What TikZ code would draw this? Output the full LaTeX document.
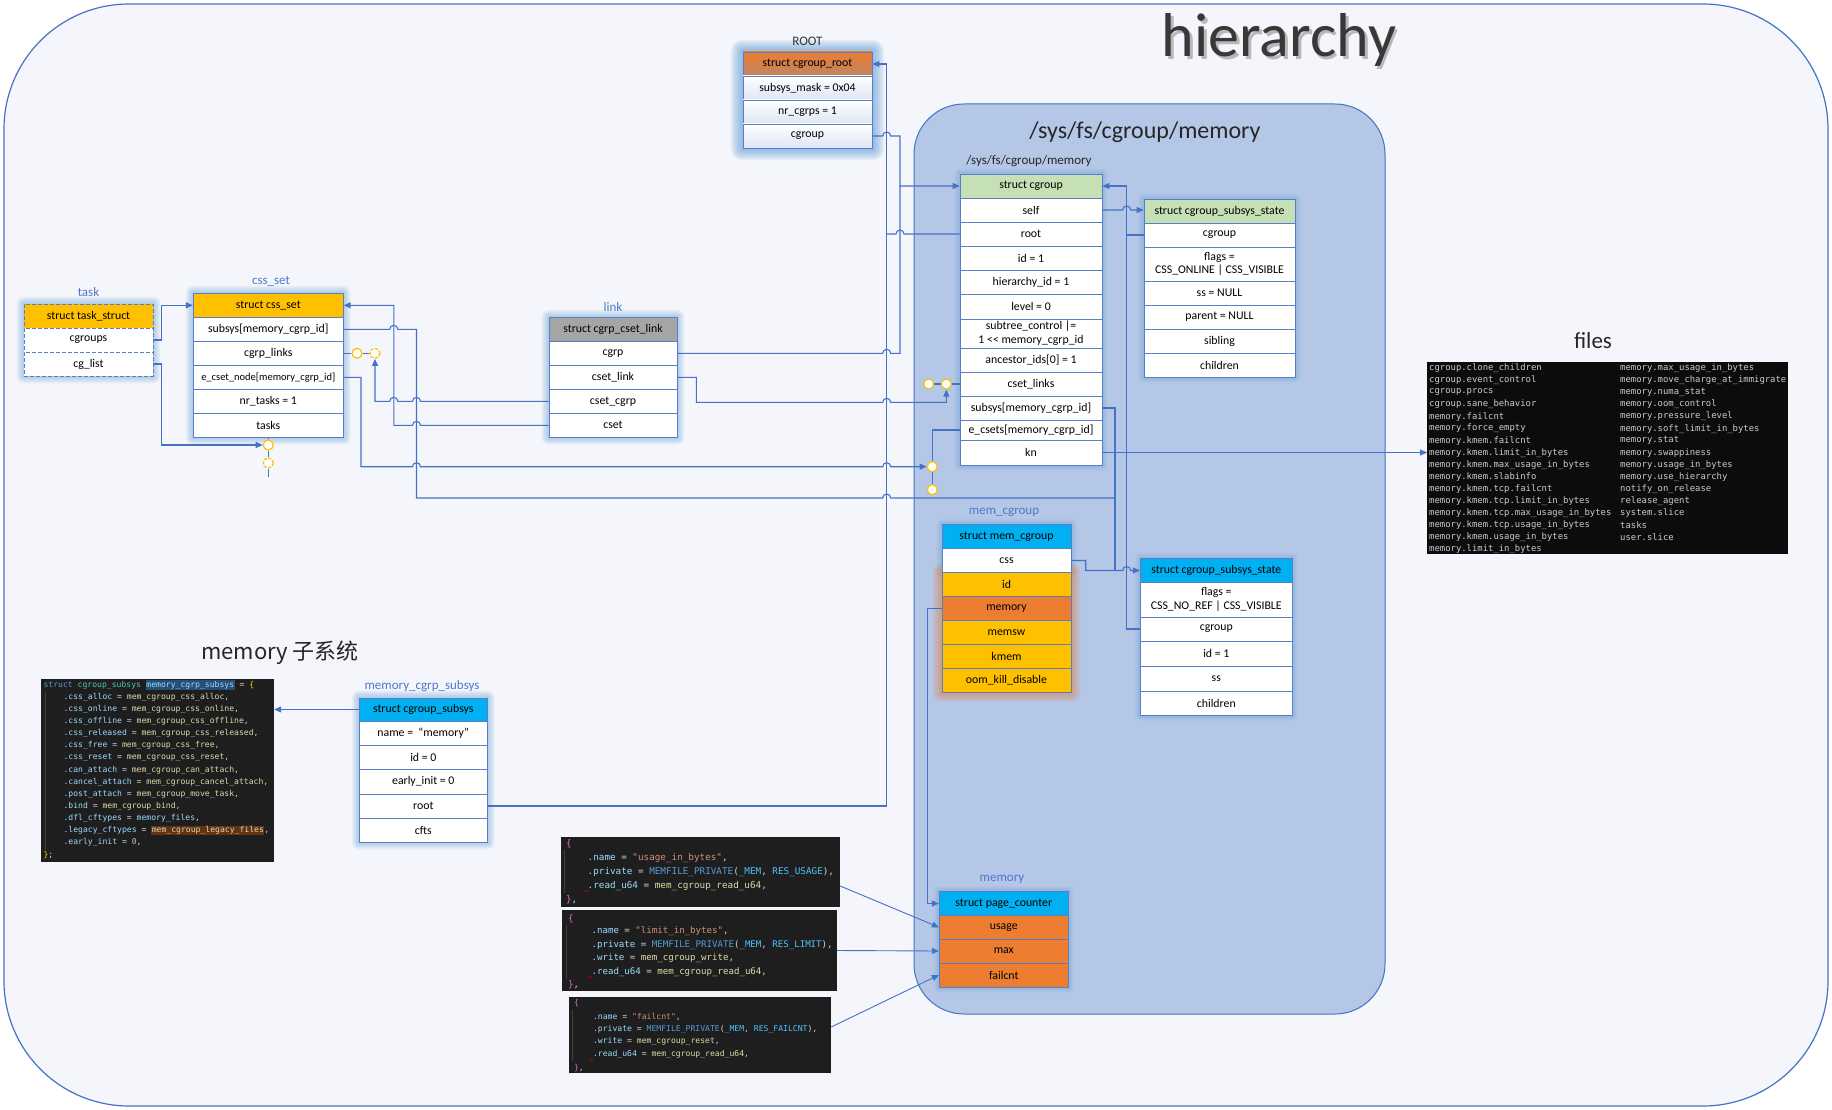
\documentclass[tikz,border=0pt]{standalone}
\usepackage{fontspec}
\setmainfont{Carlito}
\setmonofont{DejaVu Sans Mono}
\newfontfamily\cjkfont{Noto Sans CJK SC}
\usetikzlibrary{arrows.meta,calc}
\pgfdeclarelayer{back}
\pgfdeclarelayer{halo}
\pgfsetlayers{back,halo,main}

\definecolor{linec}{HTML}{4472C4}
\definecolor{boxline}{HTML}{5A7EC6}
\definecolor{hdrorange}{HTML}{ED7D31}
\definecolor{rootbrown}{HTML}{BE8465}
\definecolor{rowblue}{HTML}{DCE6F5}
\definecolor{hdrgold}{HTML}{FFC000}
\definecolor{hdrgreen}{HTML}{C5E0B4}
\definecolor{hdrcyan}{HTML}{00B0F0}
\definecolor{hdrgray}{HTML}{A5A5A5}
\definecolor{panel}{HTML}{B4C7E7}
\definecolor{pagebg}{HTML}{F4F6FB}
\definecolor{lblblue}{HTML}{4F78C8}
\definecolor{ringc}{HTML}{FFC000}
\definecolor{codebg}{HTML}{1E1E1E}
\definecolor{filebg}{HTML}{0C0C0C}
\definecolor{cfield}{HTML}{9CDCFE}
\definecolor{cfunc}{HTML}{DCDCAA}
\definecolor{cplain}{HTML}{D4D4D4}
\definecolor{cfile}{HTML}{CCCCCC}
\definecolor{ckey}{HTML}{569CD6}
\definecolor{ctype}{HTML}{4EC9B0}
\definecolor{cstr}{HTML}{CE9178}
\definecolor{cnum}{HTML}{B5CEA8}
\definecolor{cconst}{HTML}{4FC1FF}
\definecolor{cbrace}{HTML}{DA70D6}
\definecolor{cyel}{HTML}{FFD700}
\definecolor{csel}{HTML}{264F78}
\definecolor{cfind}{HTML}{613214}
\definecolor{cguide}{HTML}{404040}
\definecolor{glowblue}{HTML}{5B9BD5}
\definecolor{gloworange}{HTML}{ED7D31}

\setlength\fboxsep{0.5pt}

\newcommand\fldfont{\fontsize{11.8}{13.7}\selectfont}
\newcommand\smallfld{\fontsize{10.5}{12}\selectfont}
\newcommand\tagfont{\fontsize{13}{15}\selectfont}
\newcommand\subcode{\ttfamily\fontsize{8.1}{9}\selectfont}
\newcommand\usecode{\ttfamily\fontsize{9.3}{10}\selectfont}
\newcommand\limcode{\ttfamily\fontsize{9.1}{10}\selectfont}
\newcommand\failcode{\ttfamily\fontsize{8.1}{9}\selectfont}
\newcommand\filecode{\ttfamily\fontsize{8.9}{10}\selectfont}

\newcommand\kfield[1]{\textcolor{cfield}{#1}}
\newcommand\kfunc[1]{\textcolor{cfunc}{#1}}
\newcommand\kkey[1]{\textcolor{ckey}{#1}}
\newcommand\ktype[1]{\textcolor{ctype}{#1}}
\newcommand\kstr[1]{\textcolor{cstr}{#1}}
\newcommand\knum[1]{\textcolor{cnum}{#1}}
\newcommand\kconst[1]{\textcolor{cconst}{#1}}
\newcommand\kbrace[1]{\textcolor{cbrace}{#1}}

% one row of a struct: name, centre x, centre y, width, height, options, text
\newcommand\fieldat[7]{\node[fld,minimum width=#4pt,minimum height=#5pt,#6] (#1) at (#2,#3) {#7};}
% soft halo behind a struct
\newcommand\halo[4]{\foreach \gi in {1,...,#2}{\fill[#1,opacity=0.07,rounded corners=\gi pt] ($(#3)+(-\gi,-\gi)$) rectangle ($(#4)+(\gi,\gi)$);}}
% red squiggle under a word
\newcommand\squiggle[2]{\draw[red!75!black,line width=0.6pt] (#1,#2) -- ++(1.3,1.3) -- ++(1.3,-1.3) -- ++(1.3,1.3);}

\begin{document}
\begin{tikzpicture}[x=1pt,y=-1pt,
  fld/.style={draw=boxline,line width=0.8pt,fill=white,inner sep=0pt,align=center,font=\fldfont,text=black},
  dashedbox/.style={dash pattern=on 4pt off 2pt},
  wire/.style={draw=linec,line width=1.1pt},
  thinwire/.style={draw=linec,line width=0.9pt},
  arr/.style={-{Triangle[length=7pt,width=6pt]}},
  ringnode/.style={circle,draw=ringc,fill=white,line width=1.2pt,minimum size=10pt,inner sep=0pt},
  brokenring/.style={ringnode,dash pattern=on 3pt off 1.6pt},
  boxlabel/.style={font=\tagfont,text=lblblue,inner sep=0pt},
  codebox/.style={fill=codebg,draw=none,inner sep=0pt},
  codeln/.style={anchor=west,inner sep=0pt,text=cplain},
  guide/.style={draw=cguide,line width=0.6pt}]

\useasboundingbox (0,0) rectangle (1832,1110);

% ---------- backgrounds ----------
\begin{pgfonlayer}{back}
\fill[white] (0,0) rectangle (1832,1110);
\draw[linec,line width=1.2pt,fill=pagebg,rounded corners=125pt] (4,4) rectangle (1828,1106);
\draw[linec,line width=1pt,fill=panel,rounded corners=50pt] (914,104) rectangle (1385,1014);
\end{pgfonlayer}

% ---------- titles ----------
\node[text=black!28,font=\fontsize{62}{64}\selectfont,inner sep=0pt] (title-shadow) at (1281.5,42.5) {hierarchy};
\node[text=black!78,font=\fontsize{62}{64}\selectfont,inner sep=0pt] (title) at (1279,40) {hierarchy};
\node[text=black!85,font=\fontsize{24}{26}\selectfont,inner sep=0pt] (panel-title) at (1145,132) {/sys/fs/cgroup/memory};
\node[text=black!85,font=\fontsize{13}{15}\selectfont,inner sep=0pt] (panel-path) at (1029,161) {/sys/fs/cgroup/memory};
\node[text=black!85,font=\fontsize{23}{25}\selectfont,inner sep=0pt] (files-title) at (1593,341) {files};
\node[text=black!85,font=\cjkfont\fontsize{22}{24}\selectfont,inner sep=0pt] (subsys-title) at (280,653) {memory 子系统};

% ---------- struct cgroup_root ----------
\node[boxlabel,text=black!80] (rt-tag) at (807.5,41) {ROOT};
\fieldat{rt-h}{807.5}{64}{129}{24}{top color=hdrorange,bottom color=rootbrown}{struct cgroup\_root}
\fieldat{rt-mask}{807.5}{88}{129}{24}{top color=white,bottom color=rowblue}{subsys\_mask = 0x04}
\fieldat{rt-nr}{807.5}{112}{129}{24}{top color=white,bottom color=rowblue}{nr\_cgrps = 1}
\fieldat{rt-cg}{807.5}{136}{129}{24}{top color=white,bottom color=rowblue}{cgroup}

% ---------- task_struct ----------
\node[boxlabel] (tk-tag) at (88.5,292) {task};
\fieldat{tk-h}{88.5}{316}{129}{24}{fill=hdrgold,dashedbox}{struct task\_struct}
\fieldat{tk-cg}{88.5}{340}{129}{24}{dashedbox}{cgroups}
\fieldat{tk-cl}{88.5}{364}{129}{24}{dashedbox}{cg\_list}

% ---------- css_set ----------
\node[boxlabel] (cs-tag) at (271,281) {css\_set};
\fieldat{cs-h}{268.3}{305.3}{150}{24}{fill=hdrgold}{struct css\_set}
\fieldat{cs-sub}{268.3}{329.3}{150}{24}{}{subsys[memory\_cgrp\_id]}
\fieldat{cs-links}{268.3}{353.3}{150}{24}{}{cgrp\_links}
\fieldat{cs-node}{268.3}{377.3}{150}{24}{font=\smallfld}{e\_cset\_node[memory\_cgrp\_id]}
\fieldat{cs-nr}{268.3}{401.3}{150}{24}{}{nr\_tasks = 1}
\fieldat{cs-tasks}{268.3}{425.3}{150}{24}{}{tasks}

% ---------- cgrp_cset_link ----------
\node[boxlabel] (lk-tag) at (613,307) {link};
\fieldat{lk-h}{613}{329.3}{128}{24}{fill=hdrgray}{struct cgrp\_cset\_link}
\fieldat{lk-cgrp}{613}{353.3}{128}{24}{}{cgrp}
\fieldat{lk-link}{613}{377.3}{128}{24}{}{cset\_link}
\fieldat{lk-ccg}{613}{401.3}{128}{24}{}{cset\_cgrp}
\fieldat{lk-cset}{613}{425.3}{128}{24}{}{cset}

% ---------- struct cgroup ----------
\fieldat{cg-h}{1031}{186}{142}{24}{fill=hdrgreen}{struct cgroup}
\fieldat{cg-self}{1031}{210}{142}{24}{}{self}
\fieldat{cg-root}{1031}{234}{142}{24}{}{root}
\fieldat{cg-id}{1031}{258}{142}{24}{}{id = 1}
\fieldat{cg-hid}{1031}{282}{142}{24}{}{hierarchy\_id = 1}
\fieldat{cg-level}{1031}{306.5}{142}{25}{}{level = 0}
\fieldat{cg-sub}{1031}{333.5}{142}{29}{}{subtree\_control |=\\1 <\kern0pt< memory\_cgrp\_id}
\fieldat{cg-anc}{1031}{360}{142}{24}{}{ancestor\_ids[0] = 1}
\fieldat{cg-links}{1031}{384}{142}{24}{}{cset\_links}
\fieldat{cg-subsys}{1031}{408}{142}{24}{}{subsys[memory\_cgrp\_id]}
\fieldat{cg-ecsets}{1031}{430}{142}{20}{}{e\_csets[memory\_cgrp\_id]}
\fieldat{cg-kn}{1031}{452.5}{142}{25}{}{kn}

% ---------- cgroup_subsys_state of the cgroup ----------
\fieldat{tcs-h}{1219.5}{211}{151}{24}{fill=hdrgreen}{struct cgroup\_subsys\_state}
\fieldat{tcs-cg}{1219.5}{235}{151}{24}{}{cgroup}
\fieldat{tcs-flags}{1219.5}{264}{151}{34}{}{flags =\\CSS\_ONLINE | CSS\_VISIBLE}
\fieldat{tcs-ss}{1219.5}{293}{151}{24}{}{ss = NULL}
\fieldat{tcs-par}{1219.5}{317}{151}{24}{}{parent = NULL}
\fieldat{tcs-sib}{1219.5}{341}{151}{24}{}{sibling}
\fieldat{tcs-ch}{1219.5}{365}{151}{24}{}{children}

% ---------- mem_cgroup ----------
\node[boxlabel] (mc-tag) at (1004,512) {mem\_cgroup};
\fieldat{mc-h}{1006.5}{536.5}{129}{24}{fill=hdrcyan}{struct mem\_cgroup}
\fieldat{mc-css}{1006.5}{560.5}{129}{24}{}{css}
\fieldat{mc-id}{1006.5}{584.5}{129}{24}{fill=hdrgold}{id}
\fieldat{mc-mem}{1006.5}{608.5}{129}{24}{fill=hdrorange}{memory}
\fieldat{mc-sw}{1006.5}{632.5}{129}{24}{fill=hdrgold}{memsw}
\fieldat{mc-kmem}{1006.5}{656.5}{129}{24}{fill=hdrgold}{kmem}
\fieldat{mc-oom}{1006.5}{680.5}{129}{24}{fill=hdrgold}{oom\_kill\_disable}

% ---------- cgroup_subsys_state of mem_cgroup ----------
\fieldat{bcs-h}{1216.3}{570.5}{152}{24}{fill=hdrcyan}{struct cgroup\_subsys\_state}
\fieldat{bcs-flags}{1216.3}{599.75}{152}{34.5}{}{flags =\\CSS\_NO\_REF | CSS\_VISIBLE}
\fieldat{bcs-cg}{1216.3}{629}{152}{24}{}{cgroup}
\fieldat{bcs-id}{1216.3}{653.5}{152}{25}{}{id = 1}
\fieldat{bcs-ss}{1216.3}{678.5}{152}{25}{}{ss}
\fieldat{bcs-ch}{1216.3}{703.25}{152}{24.5}{}{children}

% ---------- page_counter ----------
\node[boxlabel] (pc-tag) at (1002,879) {memory};
\fieldat{pc-h}{1003.8}{903.5}{129}{24}{fill=hdrcyan}{struct page\_counter}
\fieldat{pc-use}{1003.8}{927.25}{129}{23.5}{fill=hdrorange}{usage}
\fieldat{pc-max}{1003.8}{951}{129}{24}{fill=hdrorange}{max}
\fieldat{pc-fail}{1003.8}{975}{129}{24}{fill=hdrorange}{failcnt}

% ---------- memory_cgrp_subsys ----------
\node[boxlabel] (ms-tag) at (422,686) {memory\_cgrp\_subsys};
\fieldat{ms-h}{423.3}{709.5}{128}{23}{fill=hdrcyan}{struct cgroup\_subsys}
\fieldat{ms-name}{423.3}{733}{128}{24}{}{name =~~“memory”}
\fieldat{ms-id}{423.3}{757}{128}{24}{}{id = 0}
\fieldat{ms-early}{423.3}{781.5}{128}{25}{}{early\_init = 0}
\fieldat{ms-root}{423.3}{806}{128}{24}{}{root}
\fieldat{ms-cfts}{423.3}{830}{128}{24}{}{cfts}

% ---------- list links ----------
\node[ringnode] (r1) at (268.3,445) {};
\node[brokenring] (r2) at (268.3,463) {};
\node[ringnode] (r3) at (357,353.3) {};
\node[brokenring] (r4) at (375,353.3) {};
\node[ringnode] (r5) at (932.3,466.7) {};
\node[ringnode] (r6) at (932.3,489.7) {};
\node[ringnode] (r7) at (928.7,384) {};
\node[ringnode] (r8) at (946.3,384) {};

% ---------- code listing: memory_cgrp_subsys ----------
\node[codebox,minimum width=233pt,minimum height=183pt] (code-subsys) at (157.5,770.5) {};
\draw[guide] (45,692) -- (45,850);
\node[codeln,font=\subcode] (sub-l0) at (43.3,685) {\kkey{struct} \ktype{cgroup\_subsys} \colorbox{csel}{\kfield{memory\_cgrp\_subsys}} = \textcolor{cyel}{\{}};
\foreach \fname/\fval [count=\i] in {css\_alloc/mem\_cgroup\_css\_alloc, css\_online/mem\_cgroup\_css\_online, css\_offline/mem\_cgroup\_css\_offline, css\_released/mem\_cgroup\_css\_released, css\_free/mem\_cgroup\_css\_free, css\_reset/mem\_cgroup\_css\_reset, can\_attach/mem\_cgroup\_can\_attach, cancel\_attach/mem\_cgroup\_cancel\_attach, post\_attach/mem\_cgroup\_move\_task, bind/mem\_cgroup\_bind}
  \node[codeln,font=\subcode] (sub-l\i) at (63.3,685+12.14*\i) {\kfield{.\fname} = \kfunc{\fval},};
\node[codeln,font=\subcode] (sub-l11) at (63.3,685+12.14*11) {\kfield{.dfl\_cftypes} = \kfield{memory\_files},};
\node[codeln,font=\subcode] (sub-l12) at (63.3,685+12.14*12) {\kfield{.legacy\_cftypes} = \colorbox{cfind}{\kfunc{mem\_cgroup\_legacy\_files}},};
\node[codeln,font=\subcode] (sub-l13) at (63.3,685+12.14*13) {\kfield{.early\_init} = \knum{0},};
\node[codeln,font=\subcode] (sub-l14) at (43.3,685+12.14*14) {\textcolor{cyel}{\}};};

% ---------- code listing: usage_in_bytes ----------
\node[codebox,minimum width=279pt,minimum height=70pt] (code-usage) at (700.5,872) {};
\draw[guide] (564,850) -- (564,893);
\node[codeln,font=\usecode] (use-l0) at (565.8,843.7) {\kbrace{\{}};
\node[codeln,font=\usecode] (use-l1) at (587.5,857.7) {\kfield{.name} = \kstr{"usage\_in\_bytes"},};
\node[codeln,font=\usecode] (use-l2) at (587.5,871.7) {\kfield{.private} = \kkey{MEMFILE\_PRIVATE}(\kconst{\_MEM}, \kconst{RES\_USAGE}),};
\node[codeln,font=\usecode] (use-l3) at (587.5,885.7) {\kfield{.read\_u64} = \kfunc{mem\_cgroup\_read\_u64},};
\node[codeln,font=\usecode] (use-l4) at (565.8,899.7) {\kbrace{\}},};
\squiggle{584.5}{890.5}

% ---------- code listing: limit_in_bytes ----------
\node[codebox,minimum width=275pt,minimum height=81pt] (code-limit) at (699.5,950.5) {};
\draw[guide] (566.5,925) -- (566.5,979);
\node[codeln,font=\limcode] (lim-l0) at (568,918.3) {\kbrace{\{}};
\node[codeln,font=\limcode] (lim-l1) at (591.4,931.3) {\kfield{.name} = \kstr{"limit\_in\_bytes"},};
\node[codeln,font=\limcode] (lim-l2) at (591.4,945) {\kfield{.private} = \kkey{MEMFILE\_PRIVATE}(\kconst{\_MEM}, \kconst{RES\_LIMIT}),};
\node[codeln,font=\limcode] (lim-l3) at (591.4,958) {\kfield{.write} = \kfunc{mem\_cgroup\_write},};
\node[codeln,font=\limcode] (lim-l4) at (591.4,971.7) {\kfield{.read\_u64} = \kfunc{mem\_cgroup\_read\_u64},};
\node[codeln,font=\limcode] (lim-l5) at (568,985) {\kbrace{\}},};
\squiggle{588.5}{976.5}

% ---------- code listing: failcnt ----------
\node[codebox,minimum width=262pt,minimum height=76pt] (code-fail) at (700,1035) {};
\draw[guide] (572,1010) -- (572,1061);
\node[codeln,font=\failcode] (fail-l0) at (573.9,1003) {\kbrace{\{}};
\node[codeln,font=\failcode] (fail-l1) at (592.8,1016.7) {\kfield{.name} = \kstr{"failcnt"},};
\node[codeln,font=\failcode] (fail-l2) at (592.8,1029.3) {\kfield{.private} = \kkey{MEMFILE\_PRIVATE}(\kconst{\_MEM}, \kconst{RES\_FAILCNT}),};
\node[codeln,font=\failcode] (fail-l3) at (592.8,1041.3) {\kfield{.write} = \kfunc{mem\_cgroup\_reset},};
\node[codeln,font=\failcode] (fail-l4) at (592.8,1054.3) {\kfield{.read\_u64} = \kfunc{mem\_cgroup\_read\_u64},};
\node[codeln,font=\failcode] (fail-l5) at (573.9,1067.7) {\kbrace{\}},};
\squiggle{589.5}{1059}

% ---------- files of the hierarchy ----------
\node[codebox,fill=filebg,minimum width=360.7pt,minimum height=192.3pt] (files) at (1607.65,457.85) {};
\foreach \t [count=\i from 0] in {cgroup.clone\_children, cgroup.event\_control, cgroup.procs, cgroup.sane\_behavior, memory.failcnt, memory.force\_empty, memory.kmem.failcnt, memory.kmem.limit\_in\_bytes, memory.kmem.max\_usage\_in\_bytes, memory.kmem.slabinfo, memory.kmem.tcp.failcnt, memory.kmem.tcp.limit\_in\_bytes, memory.kmem.tcp.max\_usage\_in\_bytes, memory.kmem.tcp.usage\_in\_bytes, memory.kmem.usage\_in\_bytes, memory.limit\_in\_bytes}
  \node[codeln,font=\filecode,text=cfile] (fl-\i) at (1429,368.3+12.07*\i) {\t};
\foreach \t [count=\i from 0] in {memory.max\_usage\_in\_bytes, memory.move\_charge\_at\_immigrate, memory.numa\_stat, memory.oom\_control, memory.pressure\_level, memory.soft\_limit\_in\_bytes, memory.stat, memory.swappiness, memory.usage\_in\_bytes, memory.use\_hierarchy, notify\_on\_release, release\_agent, system.slice, tasks, user.slice}
  \node[codeln,font=\filecode,text=cfile] (fr-\i) at (1620,368.3+12.07*\i) {\t};

% ---------- connectors ----------
% task -> css_set
\draw[wire,arr] (tk-cg.east) -- ++(8,0) |- (cs-h.west);
\draw[wire,arr] (tk-cl.east) -- ++(8,0) |- (r1.west);
\draw[wire] (cs-tasks.south) -- (r1.north);
\draw[wire] (r1.south) -- (r2.north);
\draw[wire] (r2.south) -- ++(0,8);

% css_set.cgrp_links list
\draw[wire] (cs-links.east) -- (r3.west);
\draw[wire] (r3.east) -- (r4.west);
\draw[wire,arr] (lk-ccg.west) -- (420.5,401.3) arc[start angle=0,end angle=-180,radius=4]
  -- (397.8,401.3) arc[start angle=0,end angle=-180,radius=4] -- (375,401.3) -- (r4.south);

% cgrp_cset_link.cset -> css_set
\draw[wire,arr] (lk-cset.west) -- (420.5,425.3) arc[start angle=0,end angle=-180,radius=4]
  -- (393.8,425.3) |- (cs-h.east);

% css_set.subsys -> css of mem_cgroup
\draw[wire] (cs-sub.east) -- (389.8,329.3) arc[start angle=180,end angle=360,radius=4]
  -- (416.5,329.3) -- (416.5,498) -- (882.7,498) arc[start angle=180,end angle=360,radius=4] -- (1115,498);

% css_set.e_cset_node -> cgroup.e_csets
\draw[wire,arr] (cs-node.east) -- (361,377.3) -- (361,466.7) -- (412.5,466.7) arc[start angle=180,end angle=360,radius=4]
  -- (882.7,466.7) arc[start angle=180,end angle=360,radius=4] -- (r5.west);
\draw[wire] (r5.south) -- (r6.north);
\draw[wire] (cg-ecsets.west) -| (r5.north);

% cgroup_root.cgroup and link.cgrp -> struct cgroup
\draw[wire,arr] (rt-cg.east) -- (882.7,136) arc[start angle=180,end angle=360,radius=4] -- (900,136) |- (cg-h.west);
\draw[wire] (lk-cgrp.east) -- (882.7,353.3) arc[start angle=180,end angle=360,radius=4] -- (900,353.3) -- (900,186);

% cgroup.root and memory_cgrp_subsys.root -> cgroup_root
\draw[wire,arr] (ms-root.east) -| (886.7,64) -- (rt-h.east);
\draw[wire] (cg-root.west) -- (904,234) arc[start angle=0,end angle=-180,radius=4] -- (886.7,234);

% link.cset_link -> cgroup.cset_links list
\draw[wire] (r7.east) -- (r8.west);
\draw[wire] (r8.east) -- (cg-links.west);
\draw[wire,arr] (lk-link.east) -- ++(19,0) |- (882.7,402.3) arc[start angle=180,end angle=360,radius=4]
  -- (946.3,402.3) -- (r8.south);

% cgroup.self -> its css
\draw[wire,arr] (cg-self.east) -- (1122.7,210) arc[start angle=180,end angle=360,radius=4] -- (tcs-h.west |- cg-self.east);

% css.cgroup -> struct cgroup
\draw[wire,arr] (tcs-cg.west) -- (1126.7,235) |- (cg-h.east);
\draw[wire] (bcs-cg.west) -| (1126.7,235);

% cgroup.subsys and mem_cgroup.css -> css of mem_cgroup
\draw[wire] (cg-subsys.east) -| (1115,570.5);
\draw[wire,arr] (mc-css.east) -- (1085.7,560.5) |- (1122.7,570.5) arc[start angle=180,end angle=360,radius=4] -- (bcs-h.west);

% kn -> files
\draw[wire,arr] (cg-kn.east) -- (cg-kn.east -| files.west);

% mem_cgroup.memory -> page_counter
\draw[wire,arr] (mc-mem.west) -- (927.7,608.5) |- (pc-h.west);

% memory_cgrp_subsys -> its definition
\draw[wire,arr] (ms-h.west) -- (ms-h.west -| code-subsys.east);

% cftype definitions -> page_counter fields
\draw[thinwire,arr] ([yshift=-14pt]code-usage.east) -- (pc-use.west);
\draw[thinwire,arr] (code-limit.east) -- (pc-max.west);
\draw[thinwire,arr] ([yshift=8pt]code-fail.east) -- (pc-fail.west);

% ---------- halos ----------
\begin{pgfonlayer}{halo}
\halo{glowblue}{12}{rt-h.north west}{rt-cg.south east}
\halo{glowblue}{7}{tk-h.north west}{tk-cl.south east}
\halo{glowblue}{7}{cs-h.north west}{cs-tasks.south east}
\halo{glowblue}{7}{lk-h.north west}{lk-cset.south east}
\halo{glowblue}{7}{ms-h.north west}{ms-cfts.south east}
\halo{glowblue}{5}{cg-h.north west}{cg-kn.south east}
\halo{glowblue}{5}{tcs-h.north west}{tcs-ch.south east}
\halo{glowblue}{5}{bcs-h.north west}{bcs-ch.south east}
\halo{glowblue}{5}{pc-h.north west}{pc-fail.south east}
\halo{glowblue}{5}{mc-h.north west}{mc-css.south east}
\halo{gloworange}{9}{mc-id.north west}{mc-oom.south east}
\end{pgfonlayer}

\end{tikzpicture}
\end{document}
